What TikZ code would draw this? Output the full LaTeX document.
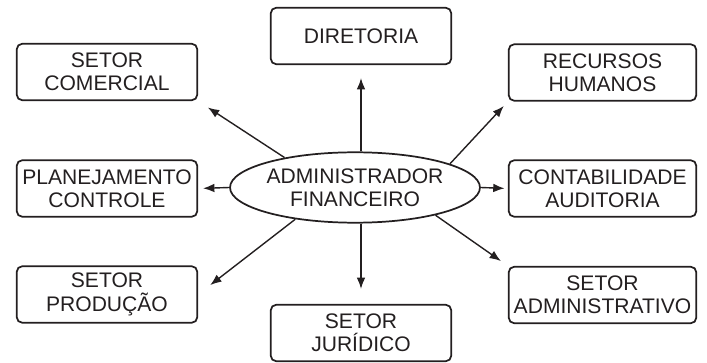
\documentclass[tikz,border=0pt]{standalone}
\usepackage{fontspec}
\setmainfont{Liberation Sans}
\usetikzlibrary{shapes.geometric,arrows.meta}
\definecolor{ink}{RGB}{35,31,32}
\begin{document}
\begin{tikzpicture}[x=0.75pt,y=-0.75pt,
		setor/.style={draw=ink,line width=1.3pt,rounded corners=4pt,
			minimum width=135.3pt,minimum height=42.3pt,inner sep=0pt,
			align=center,text=ink,font=\fontsize{15.8}{17.5}\selectfont},
		largo/.style={minimum width=140.6pt},
		central/.style={ellipse,draw=ink,line width=1.3pt,minimum width=183.3pt,
			minimum height=52.8pt,inner sep=0pt,align=center,text=ink,
			font=\fontsize{15.8}{17.5}\selectfont},
		seta/.style={draw=ink,line width=1.05pt,-{Latex[length=8.5pt,width=6.5pt]}}]
		\useasboundingbox (0,0) rectangle (707,363);
		
		\node[setor] (dir) at (361,36) {DIRETORIA};
		\node[setor] (com) at (107,72) {SETOR\\COMERCIAL};
		\node[setor,largo] (rh) at (602.5,72.5) {RECURSOS\\HUMANOS};
		\node[setor] (plan) at (107,188.5) {PLANEJAMENTO\\CONTROLE};
		\node[central] (af) at (355,187.5) {ADMINISTRADOR\\FINANCEIRO};
		\node[setor,largo] (cont) at (602.5,188.5) {CONTABILIDADE\\AUDITORIA};
		\node[setor] (prod) at (107,294.5) {SETOR\\PRODUÇÃO};
		\node[setor] (jur) at (361,333) {SETOR\\JURÍDICO};
		\node[setor,largo] (adm) at (602.5,295) {SETOR\\ADMINISTRATIVO};
		
		\draw[seta,shorten >=9.75pt] (af.north -| dir.south) -- (dir.south);
		\draw[seta,shorten >=11.25pt] (af.south -| jur.north) -- (jur.north);
		\draw[seta,shorten >=8.8pt] (af.157) -- (com.south east);
		\draw[seta,shorten >=4.5pt] (af.14) -- (rh.south west);
		\draw[seta,shorten >=3.75pt] (af.west) -- (plan.east);
		\draw[seta,shorten >=2.5pt] (af.east) -- (cont.west);
		\draw[seta,shorten >=11.5pt] (af.208) -- (prod.east);
		\draw[seta,shorten >=6.4pt] (af.341) -- (adm.north west);
\end{tikzpicture}
\end{document}
